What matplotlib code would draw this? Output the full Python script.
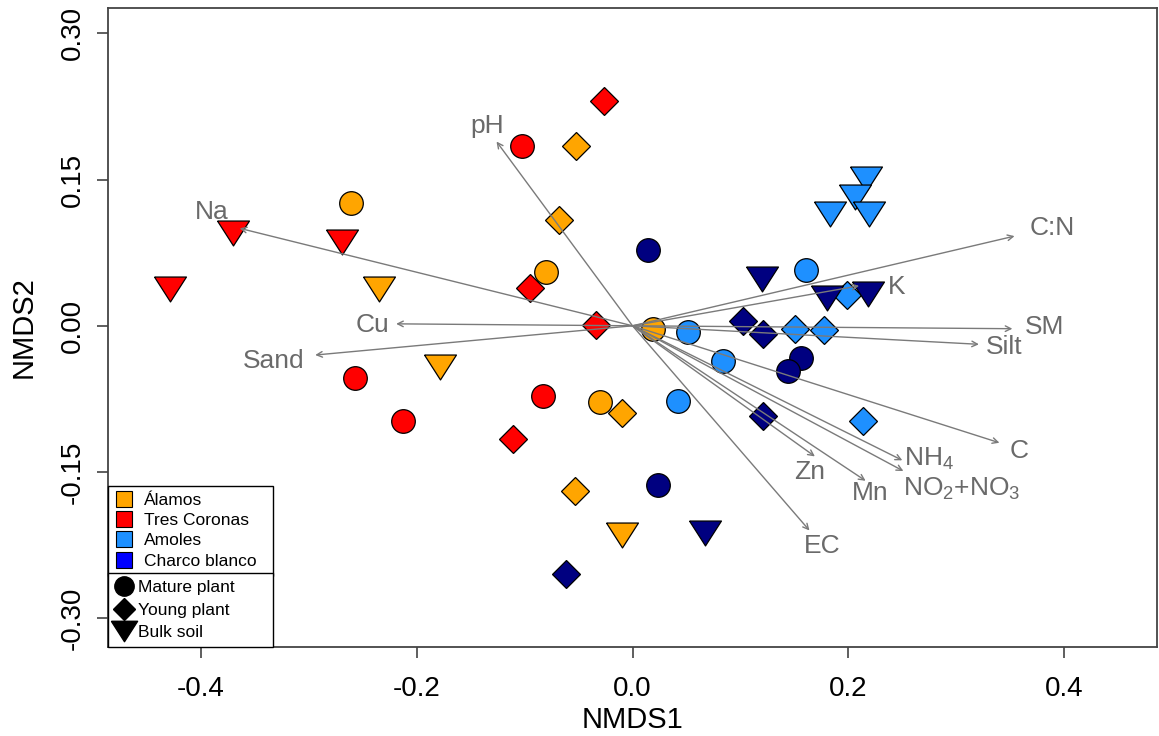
import matplotlib
matplotlib.use("Agg")
import matplotlib.pyplot as plt
from matplotlib.lines import Line2D

plt.rcParams['font.family'] = ['Liberation Sans', 'DejaVu Sans']

# samples: NMDS scores, site and plant stage
site = ['Álamos'] * 11 + ['Tres Coronas'] * 11 + ['Amoles'] * 12 + ['Charco blanco'] * 12
stage = ['Mature', 'Young', 'Young', 'Mature', 'Bulk', 'Bulk', 'Mature', 'Mature', 'Young', 'Young', 'Bulk',
         'Young', 'Mature', 'Bulk', 'Bulk', 'Bulk', 'Young', 'Young', 'Mature', 'Mature', 'Mature', 'Young',
         'Bulk', 'Bulk', 'Bulk', 'Bulk', 'Mature', 'Young', 'Young', 'Young', 'Mature', 'Mature', 'Mature', 'Young',
         'Mature', 'Bulk', 'Bulk', 'Bulk', 'Young', 'Young', 'Mature', 'Mature', 'Young', 'Mature', 'Bulk', 'Young']
nmds1 = [-0.261, -0.052, -0.068, -0.080, -0.235, -0.178, 0.019, -0.030, -0.010, -0.053, -0.010,
         -0.026, -0.102, -0.370, -0.269, -0.429, -0.095, -0.034, -0.257, -0.083, -0.213, -0.111,
         0.216, 0.206, 0.183, 0.219, 0.161, 0.199, 0.151, 0.177, 0.051, 0.084, 0.042, 0.214,
         0.014, 0.120, 0.180, 0.218, 0.102, 0.121, 0.156, 0.144, 0.121, 0.024, 0.067, -0.062]
nmds2 = [0.126, 0.184, 0.109, 0.055, 0.038, -0.042, -0.003, -0.078, -0.089, -0.169, -0.215,
         0.231, 0.184, 0.095, 0.086, 0.038, 0.039, 0.001, -0.054, -0.072, -0.098, -0.116,
         0.151, 0.132, 0.115, 0.115, 0.057, 0.032, -0.003, -0.004, -0.006, -0.036, -0.077, -0.098,
         0.078, 0.048, 0.028, 0.033, 0.005, -0.008, -0.033, -0.046, -0.093, -0.163, -0.213, -0.255]

# fitted environmental vectors
env_names = ['pH', 'Na', 'Cu', 'Sand', 'C:N', 'K', 'SM', 'Silt', 'C',
             r'$\mathregular{NH_4}$', r'$\mathregular{NO_2{+}NO_3}$', 'Mn', 'Zn', 'EC']
env_x = [-0.126, -0.364, -0.219, -0.294, 0.354, 0.210, 0.352, 0.321, 0.340, 0.250, 0.251, 0.216, 0.169, 0.164]
env_y = [0.189, 0.100, 0.002, -0.030, 0.092, 0.041, -0.003, -0.019, -0.120, -0.138, -0.149, -0.159, -0.134, -0.210]
label_off = [(-7, 11), (-20, 12), (-17, -1), (-30, -4), (27, 6), (27, -1), (23, 1), (18, -2),
             (14, -6), (19, 1), (42, -13), (3, -9), (-4, -11), (9, -11)]

# flat down-pointing triangle like R's pch 25
tri = [(-1, 0.78), (1, 0.78), (0, -0.78), (-1, 0.78)]

site_fill = {'Álamos': '#FFA500', 'Tres Coronas': '#FF0000', 'Amoles': '#1E90FF', 'Charco blanco': '#000080'}
site_legend = {'Álamos': '#FFA500', 'Tres Coronas': '#FF0000', 'Amoles': '#1E90FF', 'Charco blanco': '#0000FF'}
stage_marker = {'Mature': ('o', 17), 'Young': ('D', 14), 'Bulk': (tri, 23)}
stage_label = {'Mature': 'Mature plant', 'Young': 'Young plant', 'Bulk': 'Bulk soil'}

fig = plt.figure(figsize=(11.59, 7.36), dpi=100)
ax = fig.add_axes([108 / 1159, 1 - 647 / 736, 1049 / 1159, 639.5 / 736])

for s, st, x, y in zip(site, stage, nmds1, nmds2):
    m, ms = stage_marker[st]
    ax.plot(x, y, marker=m, ms=ms, mfc=site_fill[s], mec='black', mew=0.9, ls='none', zorder=2)

for name, x, y, off in zip(env_names, env_x, env_y, label_off):
    ax.annotate('', xy=(x, y), xytext=(0, 0),
                arrowprops=dict(arrowstyle='->', color='#7a7a7a', lw=1.0, shrinkA=0, shrinkB=0,
                                mutation_scale=10), zorder=3)
    ax.annotate(name, xy=(x, y), xytext=off, textcoords='offset points', ha='center', va='center',
                fontsize=19, color='#6a6a6a', zorder=4)

ax.set_xlim(-0.486, 0.486)
ax.set_ylim(-0.3295, 0.3265)
ax.set_xticks([-0.4, -0.2, 0.0, 0.2, 0.4])
ax.set_xticklabels(['-0.4', '-0.2', '0.0', '0.2', '0.4'])
ax.set_yticks([-0.30, -0.15, 0.0, 0.15, 0.30])
ax.set_yticklabels(['-0.30', '-0.15', '0.00', '0.15', '0.30'], rotation=90, va='center')
ax.tick_params(direction='out', length=8, width=1.1, labelsize=20, color='#333333')
ax.tick_params(axis='x', pad=13)
ax.tick_params(axis='y', pad=8)
ax.set_xlabel('NMDS1', fontsize=21, labelpad=3)
ax.set_ylabel('NMDS2', fontsize=21, labelpad=16)
for sp in ax.spines.values():
    sp.set_color('#444444')
    sp.set_linewidth(1.3)

# legends: sites (top box) and sample type (bottom box)
h1 = [Line2D([], [], marker='s', ls='none', ms=11, mfc=site_legend[s], mec='black', mew=0.8)
      for s in site_legend]
leg1 = ax.legend(h1, list(site_legend), loc='lower left', bbox_to_anchor=(0, 0.1115, 0.1573, 0.1),
                 mode='expand', borderaxespad=0, fancybox=False, edgecolor='black', fontsize=12.5,
                 handlelength=1.0, handletextpad=0.7, labelspacing=0.3, borderpad=0.4, framealpha=1)
leg1.get_frame().set_linewidth(1.0)
ax.add_artist(leg1)
h2 = [Line2D([], [], marker=stage_marker[k][0], ls='none', ms=stage_marker[k][1] * 0.82, color='black')
      for k in stage_marker]
leg2 = ax.legend(h2, [stage_label[k] for k in stage_marker], loc='lower left',
                 bbox_to_anchor=(0, 0, 0.1573, 0.1), mode='expand', borderaxespad=0, fancybox=False,
                 edgecolor='black', fontsize=12.5, handlelength=1.0, handletextpad=0.3,
                 labelspacing=0.42, borderpad=0.4, framealpha=1)
leg2.get_frame().set_linewidth(1.0)

fig.savefig('out.png', dpi=100)
